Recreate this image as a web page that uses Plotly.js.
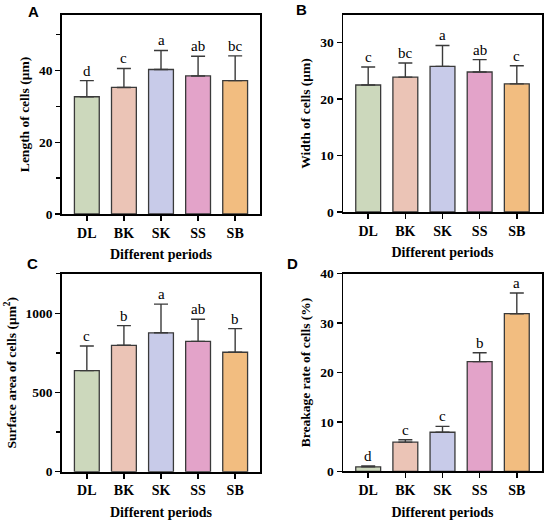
<!DOCTYPE html>
<html>
<head>
<meta charset="utf-8">
<script src="https://cdn.plot.ly/plotly-3.0.1.min.js"></script>
<style>html,body{margin:0;padding:0;background:#fff;}#chart{width:550px;height:524px;}</style>
</head>
<body>
<div id="chart"></div>
<script>
// ---- data ----
const periods = ["DL", "BK", "SK", "SS", "SB"];
const barColors = ["#ccd8bc", "#ebc4b6", "#c8cbe9", "#e3a3c9", "#f2bd80"];

const lengthMean = [32.7, 35.3, 40.3, 38.5, 37.2];
const lengthSD   = [4.5, 5.3, 5.3, 5.5, 6.9];
const lengthSig  = ["d", "c", "a", "ab", "bc"];

const widthMean = [22.5, 23.9, 25.8, 24.8, 22.7];
const widthSD   = [3.2, 2.5, 3.7, 2.2, 3.2];
const widthSig  = ["c", "bc", "a", "ab", "c"];

const areaMean = [638, 798, 877, 823, 754];
const areaSD   = [156, 124, 181, 139, 149];
const areaSig  = ["c", "b", "a", "ab", "b"];

const breakMean = [0.9, 5.9, 7.9, 22.2, 31.9];
const breakSD   = [0.2, 0.5, 1.2, 1.8, 4.2];
const breakSig  = ["d", "c", "c", "b", "a"];

const panels = [
  {key:"", mean:lengthMean, sd:lengthSD, sig:lengthSig, ytitle:"Length of cells (μm)", range:[0,55.5], dtick:20, minor:10, label:"A",
   dx:[62,260], dy:[15,214], lab:[33,11.5]},
  {key:"2", mean:widthMean, sd:widthSD, sig:widthSig, ytitle:"Width of cells (μm)", range:[0,34.9], dtick:10, minor:null, label:"B",
   dx:[343.3,541.7], dy:[15,212], lab:[301,10]},
  {key:"3", mean:areaMean, sd:areaSD, sig:areaSig, ytitle:"Surface area of cells (μm<sup>2</sup>)", range:[0,1250], dtick:500, minor:250, label:"C",
   dx:[62,260], dy:[273.7,471.7], lab:[32,263]},
  {key:"4", mean:breakMean, sd:breakSD, sig:breakSig, ytitle:"Breakage rate of cells (%)", range:[0,40], dtick:10, minor:null, label:"D",
   dx:[343.3,541.7], dy:[273.7,471.3], lab:[292,263]}
];

const W = 550, H = 524;
const serif = "Liberation Serif, Times New Roman, serif";
const traces = [];
const layout = {
  width: W, height: H,
  margin: {l:0, r:0, t:0, b:0},
  paper_bgcolor: "#fff", plot_bgcolor: "#fff",
  showlegend: false,
  bargap: 0.33,
  annotations: [],
  font: {family: serif, color: "#000"}
};

panels.forEach(p => {
  const xa = "x" + p.key, ya = "y" + p.key;
  traces.push({
    type: "bar", x: periods, y: p.mean, xaxis: xa, yaxis: ya,
    marker: {color: barColors, line: {color: "#3a3a3a", width: 1.3}},
    error_y: {type: "data", symmetric: false, array: p.sd, arrayminus: p.sd.map(() => 0),
              color: "#3a3a3a", thickness: 1.4, width: 7},
    hoverinfo: "none"
  });
  const xName = "xaxis" + p.key, yName = "yaxis" + p.key;
  layout[xName] = {
    domain: [p.dx[0]/W, p.dx[1]/W], anchor: ya,
    range: [-0.67, 4.67], type: "category",
    showline: true, linecolor: "#000", linewidth: 1.8, mirror: true,
    ticks: "outside", ticklen: 5, tickwidth: 1.5, tickcolor: "#000",
    tickfont: {family: serif, size: 14, color: "#000", weight: "bold"},
    title: {text: "<b>Different periods</b>", font: {family: serif, size: 14, color: "#000"}, standoff: 10},
    showgrid: false, zeroline: false, fixedrange: true
  };
  const yax = {
    domain: [1 - p.dy[1]/H, 1 - p.dy[0]/H], anchor: xa,
    range: p.range, dtick: p.dtick, tick0: 0,
    showline: true, linecolor: "#000", linewidth: 1.8, mirror: true,
    ticks: "outside", ticklen: 5, tickwidth: 1.5, tickcolor: "#000",
    tickfont: {family: serif, size: 13.5, color: "#000", weight: "bold"},
    title: {text: "<b>" + p.ytitle + "</b>", font: {family: serif, size: 13.5, color: "#000"}, standoff: 6},
    showgrid: false, zeroline: false, fixedrange: true
  };
  if (p.minor) yax.minor = {dtick: p.minor, ticks: "outside", ticklen: 4, tickwidth: 1.5, tickcolor: "#000", showgrid: false};
  layout[yName] = yax;

  periods.forEach((c, i) => {
    layout.annotations.push({
      xref: xa, yref: ya, x: c, y: p.mean[i] + p.sd[i],
      text: p.sig[i], showarrow: false, yanchor: "bottom", yshift: 0,
      font: {family: serif, size: 15, color: "#000"}
    });
  });
  layout.annotations.push({
    xref: "paper", yref: "paper", x: p.lab[0]/W, y: 1 - p.lab[1]/H,
    text: "<b>" + p.label + "</b>", showarrow: false, xanchor: "center", yanchor: "middle",
    font: {family: "Liberation Sans, Arial, sans-serif", size: 15, color: "#000"}
  });
});

Plotly.newPlot("chart", traces, layout, {staticPlot: true, displayModeBar: false});
</script>
</body>
</html>
